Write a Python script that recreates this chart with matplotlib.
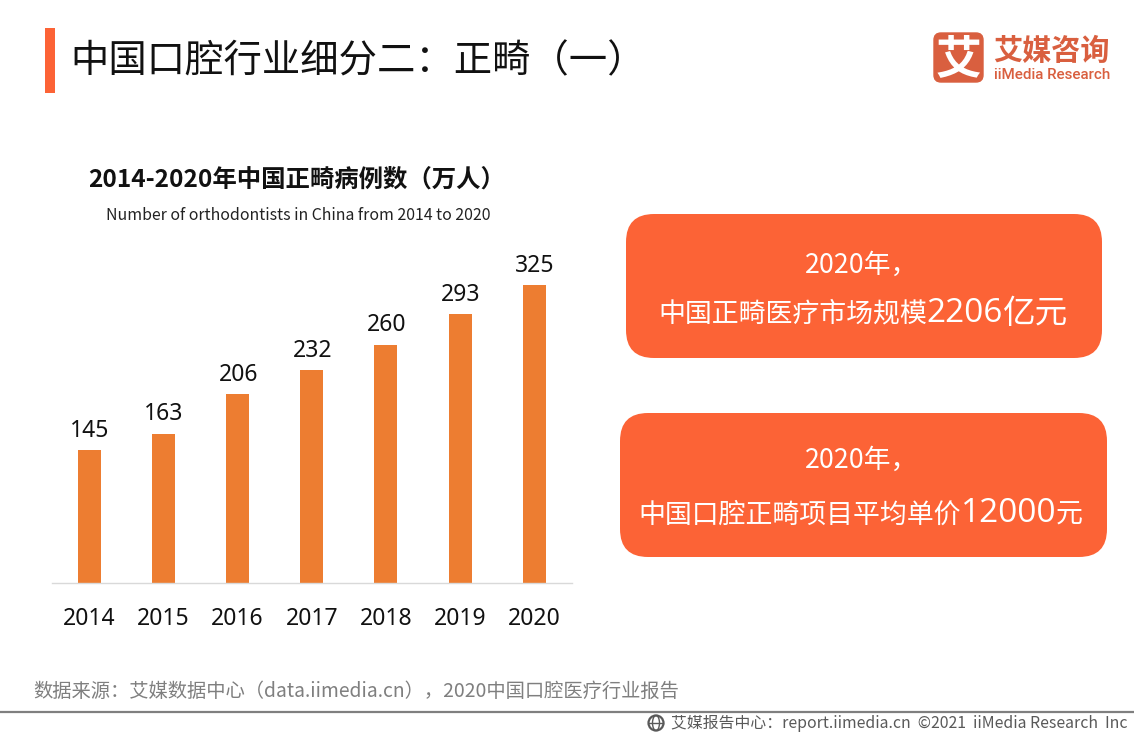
import matplotlib
matplotlib.use("Agg")
import matplotlib.pyplot as plt
from matplotlib.patches import FancyBboxPatch, Rectangle, Circle, Ellipse

plt.rcParams['font.family'] = ['Noto Sans CJK SC', 'DejaVu Sans']

years = ['2014', '2015', '2016', '2017', '2018', '2019', '2020']
cases = [145, 163, 206, 232, 260, 293, 325]

W, H = 1134, 737
fig = plt.figure(figsize=(W / 100, H / 100), dpi=100, facecolor='white')

# Chart axes
ax = fig.add_axes([52 / W, 1 - 583 / H, 519.5 / W, 343 / H])
ax.bar(years, cases, width=0.31, color='#ED7D31')
ax.set_xlim(-0.5, 6.5)
ax.set_ylim(0, 374)
for s in ['top', 'left', 'right']:
    ax.spines[s].set_visible(False)
ax.spines['bottom'].set_color('#D9D9D9')
ax.spines['bottom'].set_linewidth(1)
ax.set_yticks([])
ax.tick_params(axis='x', length=0, pad=17)
for lab in ax.get_xticklabels():
    lab.set_family('Noto Sans')
    lab.set_fontsize(16.5)
    lab.set_color('#111111')
for i, v in enumerate(cases):
    ax.annotate(str(v), (i, v), xytext=(0.5, 5.2), textcoords='offset points',
                ha='center', va='bottom', fontsize=16.5, color='#111111', family='Noto Sans')

# Overlay in pixel coordinates for page furniture
ov = fig.add_axes([0, 0, 1, 1])
ov.set_xlim(0, W)
ov.set_ylim(H, 0)
ov.axis('off')
ov.patch.set_alpha(0)

ORANGE = '#FC6336'
ov.add_patch(Rectangle((45, 28), 10, 65, color='#FC6336', lw=0))
ov.text(70, 61.5, '中国口腔行业细分二：正畸（一）', fontsize=27.6, color='#111111',
        va='center', ha='left')

# Logo
LOGO = '#D95F3F'
ov.add_patch(FancyBboxPatch((934, 33), 49, 49, boxstyle='round,pad=0,rounding_size=7',
                            fc=LOGO, ec=LOGO, lw=1))
ov.text(958.5, 60, '艾', fontsize=33, color='white', weight='bold', ha='center', va='center')
ov.text(993, 51, '艾媒咨询', fontsize=21, color=LOGO, weight='bold', ha='left', va='center')
ov.text(994, 75, 'iiMedia Research', fontsize=10.9, color=LOGO, family='Roboto',
        weight='medium', ha='left', va='center')

# Chart titles
ov.text(292.5 + 4.5, 180, '2014-2020年中国正畸病例数（万人）', fontsize=17.6, weight='bold',
        color='#111111', ha='center', va='center')
ov.text(298.5, 215.5, 'Number of orthodontists in China from 2014 to 2020', fontsize=11.45,
        weight='light', color='#222222', ha='center', va='center')


def callout(x0, y0, x1, y1, line1, y_l1, cn, num, unit, unit_size, cn_x, y_l2):
    ov.add_patch(FancyBboxPatch((x0, y0), x1 - x0, y1 - y0,
                                boxstyle='round,pad=0,rounding_size=28',
                                fc=ORANGE, ec='none'))
    ov.text((x0 + x1) / 2 - 2, y_l1, line1, fontsize=19.3, color='white', ha='center', va='center')
    t1 = ov.text(cn_x, y_l2, cn, fontsize=19.4, color='white', ha='left', va='center')
    fig.canvas.draw()
    e1 = t1.get_window_extent()
    t2 = ov.text(e1.x1, y_l2 - 1, num, fontsize=24, color='white', ha='left', va='center',
                 family='Open Sans')
    e2 = t2.get_window_extent()
    ov.text(e2.x1, y_l2, unit, fontsize=unit_size, color='white', ha='left', va='center')


callout(626, 214, 1102, 358, '2020年，', 265, '中国正畸医疗市场规模', '2206', '亿元', 23.5, 658, 314)
callout(620, 413, 1107, 557, '2020年，', 460, '中国口腔正畸项目平均单价', '12000', '元', 19.4, 638, 515)

# Footer
ov.text(33, 691, '数据来源：艾媒数据中心（data.iimedia.cn），2020中国口腔医疗行业报告',
        fontsize=13.9, weight='medium', color='#7F7F7F', ha='left', va='center')
ov.plot([0, W], [712, 712], color='#7F7F7F', lw=1.6, solid_capstyle='butt')
ov.add_patch(Circle((656, 723), 7.5, fc='none', ec='#595959', lw=1.6))
ov.add_patch(Ellipse((656, 723), 7, 15, fc='none', ec='#595959', lw=1))
ov.plot([649, 663], [723, 723], color='#595959', lw=1)
ov.text(671, 723.5, '艾媒报告中心：report.iimedia.cn  ©2021  iiMedia Research  Inc',
        fontsize=11.4, weight='medium', color='#595959', ha='left', va='center')

fig.savefig('out.png', dpi=100, facecolor='white')
